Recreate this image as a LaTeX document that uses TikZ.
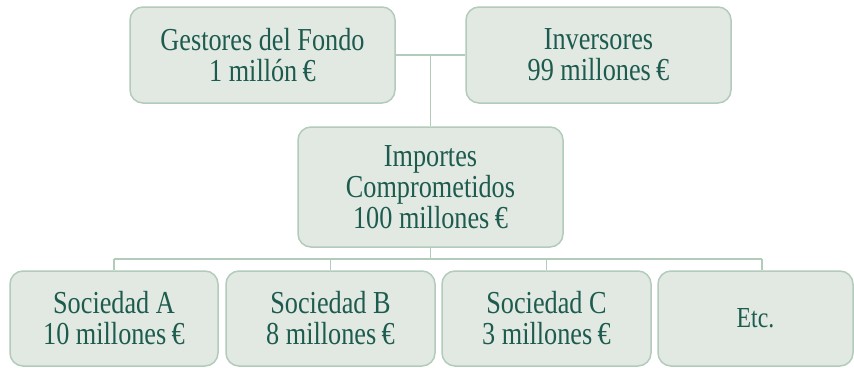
\documentclass[tikz,border=0pt]{standalone}
\usepackage{fontspec}
\setmainfont[FakeStretch=0.82]{Liberation Serif}
\definecolor{fondo_fill}{RGB}{225, 233, 226}
\definecolor{fondo_line}{RGB}{179, 203, 187}
\definecolor{fondo_text}{RGB}{30, 91, 79}
\usepackage{tikz}
\usetikzlibrary{positioning, calc}

\tikzset{
  caja/.style={draw=fondo_line, line width=1.5pt, fill=fondo_fill, rounded corners=13pt,
    text=fondo_text, align=center, inner sep=0pt,
    font=\fontsize{32}{31}\selectfont},
  enlace/.style={draw=fondo_line, line width=1.6pt}
}

\begin{document}
\begin{tikzpicture}[x=1pt, y=-1pt]
  \useasboundingbox (0,0) rectangle (854,367);
  % fila superior
  \node[caja, minimum width=265pt, minimum height=96pt]  (gestores)   at (262.5, 55)  {Gestores del Fondo\\1 millón\,€};
  \node[caja, minimum width=265pt, minimum height=96pt]  (inversores) at (598.5, 55)  {Inversores\\99 millones\,€};
  % centro
  \node[caja, minimum width=265pt, minimum height=120pt] (importes)   at (430.5, 187) {Importes\\Comprometidos\\100 millones\,€};
  % fila inferior
  \node[caja, minimum width=208pt, minimum height=95pt]  (socA) at (114,   318.5) {Sociedad A\\10 millones\,€};
  \node[caja, minimum width=209pt, minimum height=95pt]  (socB) at (330.5, 318.5) {Sociedad B\\8 millones\,€};
  \node[caja, minimum width=209pt, minimum height=95pt]  (socC) at (546.5, 318.5) {Sociedad C\\3 millones\,€};
  \node[caja, minimum width=195pt, minimum height=95pt,
        font=\fontsize{29}{30}\selectfont]               (etc)  at (755.5, 318.5) {Etc.};

  \coordinate (bus) at (430.5, 259);
  \coordinate (etcbajada) at (762, 259);

  \draw[enlace] (gestores.east) -- (inversores.west);
  \draw[enlace] (importes.north |- gestores.east) -- (importes.north);
  \draw[enlace] (importes.south) -- (bus);
  \draw[enlace, line width=1.3pt] (socA.north |- bus) -- (etcbajada);
  \foreach \s in {socA, socB, socC}
    \draw[enlace, line width=1.3pt] (\s.north |- bus) -- (\s.north);
  \draw[enlace, line width=1.3pt] (etcbajada) -- (etcbajada |- etc.north);
\end{tikzpicture}
\end{document}
